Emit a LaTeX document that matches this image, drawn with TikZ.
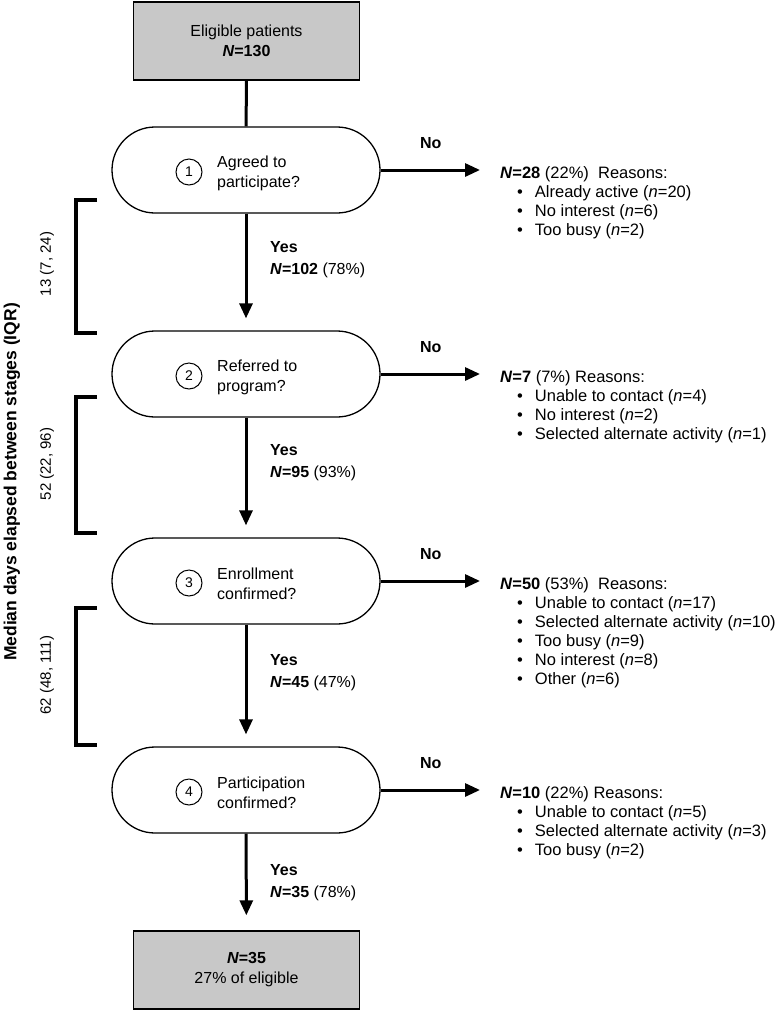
\documentclass[tikz,border=0pt]{standalone}
\usepackage{fontspec}
\setmainfont{Liberation Sans}
\usepackage{tikz}
\usetikzlibrary{arrows.meta}
\definecolor{boxgray}{RGB}{200,200,200}
\newcommand{\bul}{\\\hspace*{17pt}\textbullet\hspace{12pt}}

\tikzset{
  stage/.style={draw, line width=1.3pt, rounded corners=43pt, minimum width=268pt, minimum height=86pt},
  endbox/.style={draw, line width=1.4pt, fill=boxgray, minimum width=226pt, minimum height=78pt, align=center, font=\fontsize{16}{20}\selectfont},
  num/.style={draw, circle, line width=1pt, minimum size=26pt, inner sep=0pt, font=\fontsize{14}{14}\selectfont},
  quest/.style={anchor=west, align=left, inner sep=0pt, font=\fontsize{16}{20}\selectfont},
  reason/.style={anchor=north west, align=left, inner sep=0pt, font=\fontsize{16.5}{19}\selectfont},
  yes/.style={anchor=west, align=left, inner sep=0pt, font=\fontsize{16}{22}\selectfont},
  lab/.style={inner sep=0pt, font=\bfseries\fontsize{16}{20}\selectfont},
  days/.style={rotate=90, inner sep=0pt, font=\fontsize{15}{15}\selectfont},
  flow/.style={line width=3pt, -{Triangle[length=15pt,width=13pt]}},
  bracket/.style={line width=4pt}
}

\begin{document}
\begin{tikzpicture}[x=1pt, y=-1pt]
    \useasboundingbox (0,0) rectangle (780,1013);
    % boxes and stages
    \node[endbox] (elig) at (246.5, 41) {Eligible patients\\\textbf{\textit{N}=130}};
    \node[stage] (q1) at (246, 170) {};
    \node[stage] (q2) at (246, 374) {};
    \node[stage] (q3) at (246, 581) {};
    \node[stage] (q4) at (246, 790) {};
    \node[endbox] (final) at (246.5, 970) {\textbf{\textit{N}=35}\\27\% of eligible};
    \node[num] (c1) at (189, 172) {1};
    \node[num] (c2) at (189, 376) {2};
    \node[num] (c3) at (189, 583) {3};
    \node[num] (c4) at (189, 792) {4};
    \node[quest] (t1) at (217, 173) {Agreed to\\participate?};
    \node[quest] (t2) at (217, 377) {Referred to\\program?};
    \node[quest] (t3) at (217, 584) {Enrollment\\confirmed?};
    \node[quest] (t4) at (217, 793) {Participation\\confirmed?};
    % reasons
    \node[reason] (r1) at (500, 166) {\textbf{\textit{N}=28} (22\%)\ \ Reasons:\bul Already active (\textit{n}=20)\bul No interest (\textit{n}=6)\bul Too busy (\textit{n}=2)};
    \node[reason] (r2) at (500, 370) {\textbf{\textit{N}=7} (7\%) Reasons:\bul Unable to contact (\textit{n}=4)\bul No interest (\textit{n}=2)\bul Selected alternate activity (\textit{n}=1)};
    \node[reason] (r3) at (500, 577) {\textbf{\textit{N}=50} (53\%)\ \ Reasons:\bul Unable to contact (\textit{n}=17)\bul Selected alternate activity (\textit{n}=10)\bul Too busy (\textit{n}=9)\bul No interest (\textit{n}=8)\bul Other (\textit{n}=6)};
    \node[reason] (r4) at (500, 786) {\textbf{\textit{N}=10} (22\%) Reasons:\bul Unable to contact (\textit{n}=5)\bul Selected alternate activity (\textit{n}=3)\bul Too busy (\textit{n}=2)};
    % yes labels
    \node[yes] (y1) at (270, 260) {\textbf{Yes}\\\textbf{\textit{N}=102} (78\%)};
    \node[yes] (y2) at (270, 463) {\textbf{Yes}\\\textbf{\textit{N}=95} (93\%)};
    \node[yes] (y3) at (270, 673) {\textbf{Yes}\\\textbf{\textit{N}=45} (47\%)};
    \node[yes] (y4) at (270, 883) {\textbf{Yes}\\\textbf{\textit{N}=35} (78\%)};
    % days between stages
    \node[days] (d1) at (47, 264) {13 (7, 24)};
    \node[days] (d2) at (47, 464) {52 (22, 96)};
    \node[days] (d3) at (47, 675) {62 (48, 111)};
    \node[rotate=90, inner sep=0pt, font=\bfseries\fontsize{17.5}{17.5}\selectfont] (axis) at (12, 482) {Median days elapsed between stages (IQR)};
    \draw[bracket] (97, 200) -| (76, 333) -- (97, 333);
    \draw[bracket] (97, 397) -| (76, 533) -- (97, 533);
    \draw[bracket] (97, 608) -| (76, 745) -- (97, 745);
    % connectors
    \draw[line width=3pt] (elig) -- (q1);
    \draw[flow, shorten >=12pt] (q1) -- (q2);
    \draw[flow, shorten >=12pt] (q2) -- (q3);
    \draw[flow, shorten >=12pt] (q3) -- (q4);
    \draw[flow, shorten >=15pt] (q4) -- (final);
    \draw[flow, shorten >=20pt] (q1.east) -- node[lab, above=20pt, pos=0.42] {No} (q1.east -| r1.west);
    \draw[flow, shorten >=20pt] (q2.east) -- node[lab, above=20pt, pos=0.42] {No} (q2.east -| r2.west);
    \draw[flow, shorten >=20pt] (q3.east) -- node[lab, above=20pt, pos=0.42] {No} (q3.east -| r3.west);
    \draw[flow, shorten >=20pt] (q4.east) -- node[lab, above=20pt, pos=0.42] {No} (q4.east -| r4.west);
  \end{tikzpicture}
\end{document}
